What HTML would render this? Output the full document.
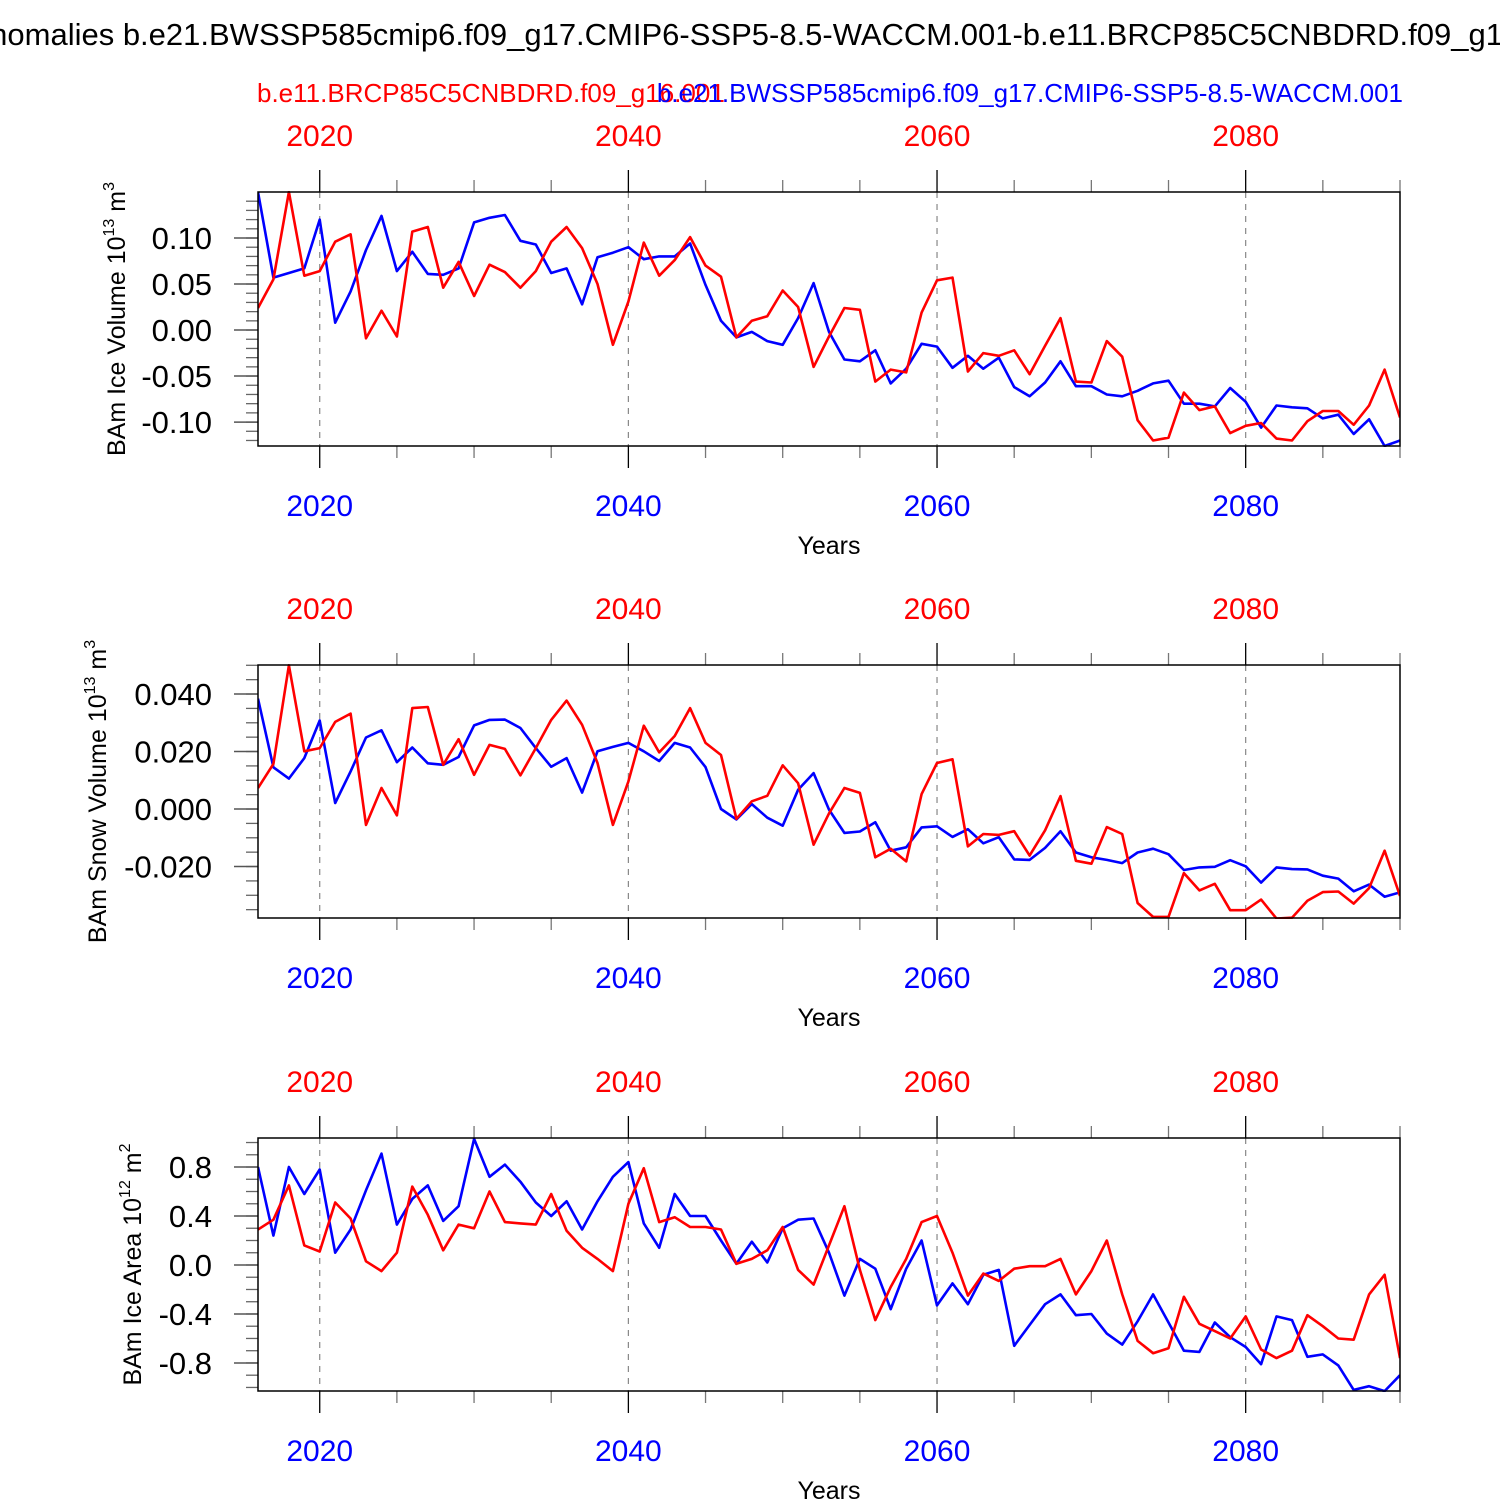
<!DOCTYPE html>
<html><head><meta charset="utf-8"><style>
html,body{margin:0;padding:0;background:#fff;width:1500px;height:1500px;overflow:hidden}
svg{display:block;font-family:"Liberation Sans",sans-serif}
</style></head><body>
<svg id="chart" width="1500" height="1500" viewBox="0 0 1500 1500" xmlns="http://www.w3.org/2000/svg">
<text x="775" y="45" font-size="31" text-anchor="middle" fill="#000">Anomalies b.e21.BWSSP585cmip6.f09_g17.CMIP6-SSP5-8.5-WACCM.001-b.e11.BRCP85C5CNBDRD.f09_g16.001</text>
<text x="257" y="102" font-size="26" fill="#ff0000">b.e11.BRCP85C5CNBDRD.f09_g16.001</text>
<text x="1403" y="102" font-size="26" text-anchor="end" fill="#0000ff">b.e21.BWSSP585cmip6.f09_g17.CMIP6-SSP5-8.5-WACCM.001</text>
<g id="panels"></g>
</svg>
<script>
const years = []; for (let y = 2016; y <= 2090; y++) years.push(y);
const xTickYears = [2020, 2040, 2060, 2080];

const iceVolBlue = [0.150,0.057,0.062,0.067,0.120,0.008,0.042,0.087,0.124,0.064,0.085,0.061,0.060,0.067,0.117,0.122,0.125,0.097,0.093,0.062,0.067,0.028,0.079,0.084,0.090,0.077,0.080,0.080,0.094,0.049,0.010,-0.008,-0.002,-0.012,-0.016,0.013,0.051,-0.002,
-0.032,-0.034,-0.022,-0.058,-0.042,-0.015,-0.018,-0.041,-0.028,-0.042,-0.030,-0.062,-0.072,-0.057,-0.034,-0.061,-0.061,-0.070,-0.072,-0.066,-0.058,-0.055,-0.080,-0.080,-0.083,-0.063,-0.078,-0.106,-0.082,-0.084,-0.085,-0.096,-0.092,-0.113,-0.097,-0.126,-0.120];
const iceVolRed = [0.024,0.055,0.150,0.059,0.064,0.096,0.104,-0.009,0.021,-0.007,0.107,0.112,0.046,0.074,0.037,0.071,0.063,0.046,0.064,0.096,0.112,0.089,0.050,-0.016,0.031,0.095,0.059,0.076,0.101,0.070,0.058,-0.008,0.010,0.015,0.043,0.025,-0.040,-0.007,
0.024,0.022,-0.056,-0.043,-0.046,0.019,0.054,0.057,-0.045,-0.025,-0.028,-0.022,-0.048,-0.017,0.013,-0.056,-0.057,-0.012,-0.029,-0.098,-0.120,-0.117,-0.068,-0.087,-0.083,-0.112,-0.104,-0.101,-0.118,-0.120,-0.099,-0.088,-0.088,-0.103,-0.082,-0.043,-0.095];

const snowBlue = [0.0384,0.0145,0.0106,0.0177,0.0308,0.0021,0.0131,0.0249,0.0274,0.0163,0.0214,0.0159,0.0154,0.0181,0.0291,0.0310,0.0311,0.0282,0.0212,0.0147,0.0177,0.0057,0.0201,0.0216,0.0230,0.0201,0.0167,0.0230,0.0214,0.0146,0.0000,-0.0036,0.0017,-0.0030,-0.0058,0.0067,0.0125,-0.0002,
-0.0083,-0.0078,-0.0046,-0.0145,-0.0133,-0.0064,-0.0060,-0.0097,-0.0070,-0.0119,-0.0098,-0.0175,-0.0177,-0.0135,-0.0077,-0.0151,-0.0168,-0.0177,-0.0188,-0.0151,-0.0138,-0.0157,-0.0212,-0.0203,-0.0201,-0.0178,-0.0199,-0.0256,-0.0203,-0.0209,-0.0210,-0.0232,-0.0242,-0.0286,-0.0263,-0.0305,-0.0290];
const snowRed = [0.0073,0.0157,0.0500,0.0201,0.0212,0.0303,0.0332,-0.0055,0.0073,-0.0022,0.0351,0.0355,0.0154,0.0243,0.0119,0.0223,0.0209,0.0117,0.0212,0.0310,0.0377,0.0293,0.0160,-0.0055,0.0096,0.0290,0.0197,0.0254,0.0351,0.0230,0.0188,-0.0034,0.0027,0.0046,0.0152,0.0090,-0.0124,-0.0015,
0.0073,0.0056,-0.0168,-0.0138,-0.0182,0.0052,0.0160,0.0173,-0.0130,-0.0087,-0.0090,-0.0077,-0.0162,-0.0074,0.0045,-0.0180,-0.0190,-0.0063,-0.0087,-0.0327,-0.0375,-0.0375,-0.0223,-0.0283,-0.0260,-0.0352,-0.0352,-0.0315,-0.0381,-0.0378,-0.0319,-0.0289,-0.0287,-0.0329,-0.0275,-0.0145,-0.0302];

const areaBlue = [0.80,0.24,0.80,0.58,0.78,0.10,0.29,0.61,0.91,0.33,0.54,0.65,0.36,0.48,1.03,0.72,0.82,0.68,0.51,0.40,0.52,0.29,0.52,0.72,0.84,0.34,0.14,0.58,0.40,0.40,0.20,0.01,0.19,0.02,0.30,0.37,0.38,0.10,
-0.25,0.05,-0.03,-0.36,-0.03,0.20,-0.33,-0.15,-0.32,-0.08,-0.04,-0.66,-0.49,-0.32,-0.24,-0.41,-0.40,-0.56,-0.65,-0.46,-0.24,-0.47,-0.70,-0.71,-0.47,-0.59,-0.67,-0.81,-0.42,-0.45,-0.75,-0.73,-0.82,-1.02,-0.99,-1.03,-0.90];
const areaRed = [0.29,0.37,0.65,0.16,0.11,0.51,0.38,0.03,-0.05,0.10,0.64,0.41,0.12,0.33,0.30,0.60,0.35,0.34,0.33,0.58,0.28,0.14,0.05,-0.05,0.50,0.79,0.35,0.39,0.31,0.31,0.29,0.01,0.05,0.12,0.31,-0.04,-0.16,0.16,
0.48,-0.04,-0.45,-0.18,0.05,0.35,0.40,0.10,-0.25,-0.07,-0.13,-0.03,-0.01,-0.01,0.05,-0.24,-0.05,0.20,-0.24,-0.62,-0.72,-0.68,-0.26,-0.48,-0.54,-0.60,-0.42,-0.69,-0.76,-0.70,-0.41,-0.50,-0.60,-0.61,-0.24,-0.08,-0.76];

const iceVolTicks = ["0.10","0.05","0.00","-0.05","-0.10"];
const snowTicks = ["0.040","0.020","0.000","-0.020"];
const areaTicks = ["0.8","0.4","0.0","-0.4","-0.8"];

const NS = "http://www.w3.org/2000/svg";
const X0 = 258, X1 = 1400, YR0 = 2016, YR1 = 2090;
const xScale = yr => X0 + (yr - YR0) * (X1 - X0) / (YR1 - YR0);
function mk(parent, tag, attrs, txt) {
  const e = document.createElementNS(NS, tag);
  for (const k in attrs) e.setAttribute(k, attrs[k]);
  if (txt !== undefined) e.textContent = txt;
  parent.appendChild(e); return e;
}
const panelsG = document.getElementById('panels');

const panels = [
  {key:'ice-volume', top:192, bot:446, ymin:-0.126, ymax:0.150, ticks:iceVolTicks, minorStep:0.01, minorFrom:-0.12, minorTo:0.14,
   title:'BAm Ice Volume 10', exp:'13', unit:' m', uexp:'3', titleX:125, blue:iceVolBlue, red:iceVolRed},
  {key:'snow-volume', top:665, bot:918, ymin:-0.0379, ymax:0.0501, ticks:snowTicks, minorStep:0.005, minorFrom:-0.035, minorTo:0.05,
   title:'BAm Snow Volume 10', exp:'13', unit:' m', uexp:'3', titleX:106, blue:snowBlue, red:snowRed},
  {key:'ice-area', top:1138, bot:1391, ymin:-1.029, ymax:1.037, ticks:areaTicks, minorStep:0.1, minorFrom:-1.0, minorTo:1.0,
   title:'BAm Ice Area 10', exp:'12', unit:' m', uexp:'2', titleX:141, blue:areaBlue, red:areaRed}
];

panels.forEach(p => {
  const g = mk(panelsG, 'g', {});
  
  
  const yScale = v => p.bot - (v - p.ymin) * (p.bot - p.top) / (p.ymax - p.ymin);
  xTickYears.forEach(yr => {
    const l = mk(g, 'line', {x1:xScale(yr), x2:xScale(yr), y1:p.top, y2:p.bot, stroke:'#888', 'stroke-width':1.2, 'stroke-dasharray':'6,6'});
    
    
  });
  for (let yr = 2020; yr <= 2090; yr += 5) {
    const major = yr % 20 === 0;
    const len = major ? 22 : 12;
    const x = xScale(yr);
    mk(g, 'line', {x1:x, x2:x, y1:p.top, y2:p.top - len, stroke:major?'#000':'#777', 'stroke-width':1.3});
    mk(g, 'line', {x1:x, x2:x, y1:p.bot, y2:p.bot + len, stroke:major?'#000':'#777', 'stroke-width':1.3});
  }
  for (let v = p.minorFrom; v <= p.minorTo + 1e-9; v += p.minorStep) {
    const y = yScale(v);
    if (y < p.top - 0.5 || y > p.bot + 0.5) continue;
    mk(g, 'line', {x1:246, x2:X0, y1:y, y2:y, stroke:'#666', 'stroke-width':1.3});
  }
  p.ticks.forEach(t => {
    const y = yScale(parseFloat(t));
    mk(g, 'line', {x1:234, x2:X0, y1:y, y2:y, stroke:'#555', 'stroke-width':1.5});
    const tl = mk(g, 'text', {x:212, y:y + 11, 'font-size':31, 'text-anchor':'end', fill:'#000'}, t);
    
    
  });
  xTickYears.forEach(yr => {
    const x = xScale(yr);
    const a = mk(g, 'text', {x:x, y:p.top - 46, 'font-size':30, 'text-anchor':'middle', fill:'#ff0000'}, String(yr));
    
    
    const b = mk(g, 'text', {x:x, y:p.bot + 70, 'font-size':30, 'text-anchor':'middle', fill:'#0000ff'}, String(yr));
    
    
  });
  const xt = mk(g, 'text', {x:829, y:p.bot + 108, 'font-size':25, 'text-anchor':'middle', fill:'#000'}, 'Years');
  
  
  const cy = (p.top + p.bot) / 2;
  const yt = mk(g, 'text', {x:0, y:0, 'font-size':25, 'text-anchor':'middle', fill:'#000', transform:`translate(${p.titleX},${cy}) rotate(-90)`});
  
  
  mk(yt, 'tspan', {}, p.title);
  mk(yt, 'tspan', {'font-size':16, dy:-11}, p.exp);
  mk(yt, 'tspan', {dy:11}, p.unit);
  mk(yt, 'tspan', {'font-size':16, dy:-11}, p.uexp);
  const clipId = 'clip-' + p.key;
  const cp = mk(g, 'clipPath', {id:clipId});
  mk(cp, 'rect', {x:X0, y:p.top - 1, width:X1 - X0, height:p.bot - p.top + 2});
  const pts = arr => arr.map((v, i) => xScale(years[i]).toFixed(1) + ',' + yScale(v).toFixed(1)).join(' ');
  const blue = mk(g, 'polyline', {points:pts(p.blue), fill:'none', stroke:'#0000ff', 'stroke-width':2.6, 'stroke-linejoin':'round', 'clip-path':`url(#${clipId})`});
  
  
  const red = mk(g, 'polyline', {points:pts(p.red), fill:'none', stroke:'#ff0000', 'stroke-width':2.6, 'stroke-linejoin':'round', 'clip-path':`url(#${clipId})`});
  
  
  const frame = mk(g, 'rect', {x:X0, y:p.top, width:X1 - X0, height:p.bot - p.top, fill:'none', stroke:'#000', 'stroke-width':1.5});
  
  
});
</script>
</body></html>
